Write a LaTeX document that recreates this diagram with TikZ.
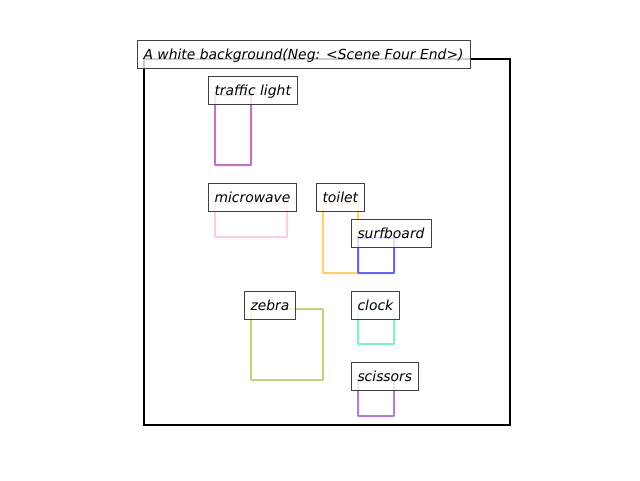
\documentclass[tikz,border=0pt]{standalone}
\usepackage{fontspec}
\setmainfont{DejaVu Sans}
\begin{document}
\begin{tikzpicture}[x=1pt,y=-1pt,outer sep=0pt,
  lbl/.style={draw=black!75,line width=1pt,fill=white,fill opacity=0.8,text opacity=1,
    anchor=north west,minimum height=28pt,inner xsep=6.5pt,inner ysep=0pt,
    text height=12.5pt,text depth=2pt,font=\fontsize{13.9}{16}\selectfont\itshape},
  bbox/.style={draw=#1,line width=2pt,anchor=north west,inner sep=0pt,rounded corners=0.5pt}]
\definecolor{ctl}{RGB}{192,116,192}
\definecolor{cmw}{RGB}{255,204,232}
\definecolor{cto}{RGB}{255,206,112}
\definecolor{csb}{RGB}{102,102,240}
\definecolor{cze}{RGB}{196,210,132}
\definecolor{ccl}{RGB}{128,240,206}
\definecolor{csc}{RGB}{178,128,206}
\useasboundingbox (0,0) rectangle (640,480);
\node[draw=black,line width=2pt,anchor=north west,inner sep=0pt,minimum width=366pt,minimum height=366pt] (frame) at (144,59) {};
\node[bbox=ctl,minimum width=36pt,minimum height=70pt] (r1) at (215,95) {};
\node[bbox=cmw,minimum width=72pt,minimum height=34pt] (r2) at (215,203) {};
\node[bbox=cto,minimum width=35pt,minimum height=70pt] (r3) at (323,203) {};
\node[bbox=csb,minimum width=36pt,minimum height=35pt] (r4) at (358,238) {};
\node[bbox=cze,minimum width=72pt,minimum height=71pt] (r5) at (251,309) {};
\node[bbox=ccl,minimum width=36pt,minimum height=35pt] (r6) at (358,309) {};
\node[bbox=csc,minimum width=36pt,minimum height=36pt] (r7) at (358,380) {};
\node[lbl] (title) at (137,40) {A white background(Neg: <Scene Four End>)};
\node[lbl] (l1) at (208,76) {traffic light};
\node[lbl] (l2) at (208,183) {microwave};
\node[lbl] (l3) at (316,183) {toilet};
\node[lbl] (l4) at (351,219) {surfboard};
\node[lbl] (l5) at (244,291) {zebra};
\node[lbl] (l6) at (351,291) {clock};
\node[lbl] (l7) at (351,362) {scissors};
\end{tikzpicture}
\end{document}
